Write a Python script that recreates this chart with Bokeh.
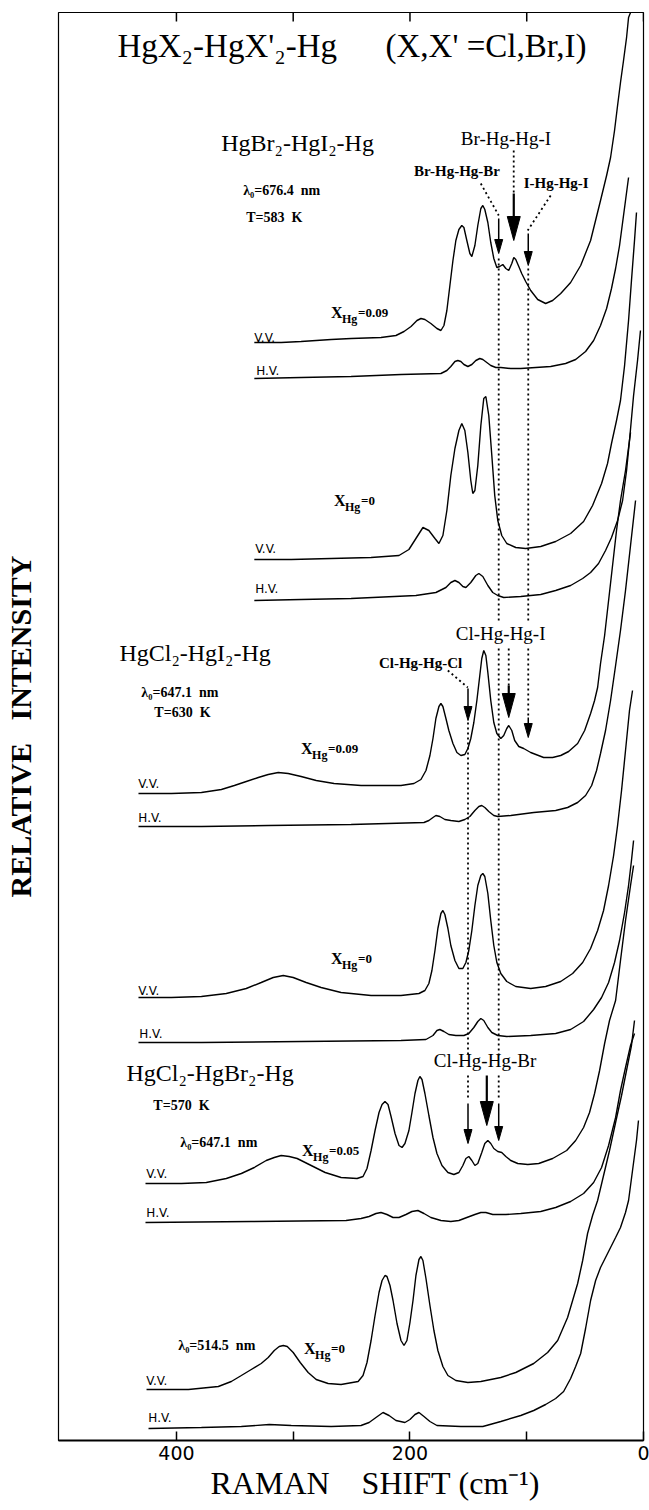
import math
from bokeh.plotting import figure
from bokeh.models import Range1d, FixedTicker, LinearAxis, Label
from bokeh.embed import file_html
from bokeh.resources import INLINE

# ---------------- data (Raman shift in cm-1, intensity in arbitrary units) -------------
# HgBr2-HgI2-Hg, X_Hg = 0.09
a_vv_shift = [333.3, 310.3, 293.2, 267.5, 250.4, 224.8, 212.0, 205.1, 199.1, 194.0, 190.6, 187.2, 182.1, 176.9, 173.5, 170.9, 168.4, 165.8, 163.2, 160.7, 158.1, 155.6, 153.8, 151.3, 148.7, 147.0, 144.4, 141.9, 139.3, 137.6, 135.9, 133.3, 130.8, 128.2, 125.6, 123.1, 120.5, 117.9, 115.4, 112.8, 111.1, 109.4, 106.8, 104.3, 100.9, 96.6, 90.6, 83.8, 77.8, 70.9, 62.4, 53.8, 45.3, 36.8, 31.6, 28.2, 24.8, 22.2, 19.7, 17.1, 14.5, 12.8, 11.1]
a_vv_int = [1098, 1098, 1099, 1101, 1102, 1103, 1105, 1109, 1114, 1120, 1122, 1121, 1117, 1112, 1110, 1115, 1130, 1155, 1180, 1200, 1211, 1215, 1213, 1200, 1187, 1184, 1195, 1215, 1232, 1235, 1231, 1218, 1198, 1182, 1173, 1174, 1176, 1172, 1170, 1177, 1183, 1181, 1174, 1167, 1159, 1150, 1141, 1137, 1140, 1147, 1158, 1175, 1200, 1240, 1265, 1283, 1310, 1335, 1358, 1380, 1403, 1423, 1428]
a_hv_shift = [333.3, 293.2, 250.4, 207.7, 173.5, 168.4, 165.0, 161.5, 159.0, 156.4, 153.8, 150.4, 147.0, 143.6, 140.2, 137.6, 134.2, 130.8, 126.5, 122.2, 113.7, 105.1, 92.3, 79.5, 66.7, 58.1, 49.6, 42.7, 36.8, 31.6, 27.4, 23.9, 20.5, 17.9, 15.4, 12.8]
a_hv_int = [1062, 1063, 1064, 1066, 1067, 1070, 1074, 1079, 1080, 1079, 1076, 1074, 1076, 1080, 1082, 1081, 1078, 1075, 1073, 1073, 1072, 1072, 1073, 1074, 1077, 1081, 1089, 1100, 1115, 1132, 1152, 1172, 1195, 1218, 1240, 1263]
# HgBr2-HgI2-Hg, X_Hg = 0
b_vv_shift = [333.3, 301.7, 267.5, 233.3, 209.4, 200.9, 194.9, 188.9, 183.8, 178.6, 175.2, 171.8, 168.4, 165.0, 161.5, 158.1, 155.6, 153.0, 150.4, 147.9, 146.2, 144.4, 141.9, 139.3, 136.8, 135.0, 132.5, 129.9, 127.4, 124.8, 121.4, 117.1, 109.4, 100.9, 88.0, 75.2, 62.4, 51.3, 43.6, 35.9, 30.8, 27.4, 23.1, 19.7, 16.2, 12.8, 10.3, 7.7, 6.0]
b_vv_int = [881, 881, 882, 883, 885, 891, 902, 913, 910, 902, 897, 905, 930, 965, 992, 1010, 1017, 1010, 988, 960, 947, 950, 975, 1015, 1042, 1044, 1025, 985, 945, 920, 905, 897, 893, 892, 894, 899, 907, 919, 935, 957, 977, 997, 1020, 1040, 1075, 1120, 1160, 1200, 1228]
b_hv_shift = [333.3, 293.2, 250.4, 194.9, 177.8, 169.2, 165.0, 161.5, 158.1, 154.7, 152.1, 147.9, 143.6, 141.0, 137.6, 133.3, 129.1, 124.8, 119.7, 105.1, 88.0, 75.2, 62.4, 52.1, 45.3, 38.5, 32.5, 27.4, 22.2, 17.9, 14.5, 12.0, 8.5, 5.1, 2.6]
b_hv_int = [840, 841, 842, 845, 848, 853, 858, 860, 858, 854, 853, 858, 865, 867, 864, 855, 848, 845, 843, 844, 846, 850, 855, 862, 868, 877, 890, 903, 920, 940, 970, 1000, 1045, 1080, 1110]
# HgCl2-HgI2-Hg, X_Hg = 0.09
c_vv_shift = [432.5, 404.3, 378.6, 361.5, 350.4, 340.2, 329.9, 321.4, 312.8, 304.3, 293.2, 280.3, 265.0, 241.9, 222.2, 207.7, 196.6, 190.6, 186.3, 182.9, 180.3, 177.8, 175.2, 173.5, 171.8, 169.2, 166.7, 163.2, 159.8, 156.4, 153.0, 150.4, 147.9, 145.3, 142.7, 140.2, 138.5, 136.8, 135.0, 133.3, 130.8, 128.2, 125.6, 122.2, 119.7, 117.1, 115.4, 112.8, 110.3, 106.8, 102.6, 96.6, 85.5, 77.8, 70.9, 64.1, 56.4, 50.4, 45.3, 41.9, 39.3, 36.8, 33.3, 29.9, 26.5, 23.1, 19.7, 15.4, 11.1]
c_vv_int = [647, 647, 648, 651, 655, 659, 663, 666, 668, 667, 664, 660, 657, 655, 655, 655, 657, 661, 670, 685, 702, 722, 734, 737, 734, 722, 710, 697, 688, 685, 686, 692, 702, 718, 740, 765, 782, 790, 785, 768, 740, 718, 707, 702, 705, 712, 715, 710, 700, 694, 692, 688, 683, 683, 685, 689, 697, 710, 727, 740, 753, 777, 805, 840, 875, 910, 940, 970, 1008]
c_hv_shift = [432.5, 378.6, 321.4, 250.4, 188.0, 183.8, 180.3, 177.8, 174.4, 170.1, 165.0, 158.1, 153.0, 148.7, 144.4, 141.0, 138.5, 135.9, 132.5, 128.2, 124.8, 113.7, 94.0, 75.2, 65.0, 56.4, 49.6, 44.4, 40.2, 36.8, 32.5, 28.2, 23.9, 19.7, 15.4, 11.1, 6.8]
c_hv_int = [614, 614, 615, 616, 618, 620, 623, 625, 624, 621, 620, 619, 621, 624, 630, 634, 635, 633, 629, 625, 624, 625, 628, 630, 633, 638, 645, 655, 670, 687, 710, 740, 775, 810, 850, 895, 940]
# HgCl2-HgI2-Hg, X_Hg = 0
d_vv_shift = [432.5, 404.3, 378.6, 357.3, 340.2, 327.4, 317.1, 308.5, 300.0, 288.9, 276.1, 259.0, 233.3, 207.7, 192.3, 187.2, 183.8, 181.2, 178.6, 176.1, 173.5, 171.8, 170.1, 167.5, 165.0, 161.5, 158.1, 154.7, 152.1, 149.6, 147.0, 144.4, 141.9, 139.3, 137.6, 135.9, 133.3, 130.8, 128.2, 125.6, 122.2, 117.1, 109.4, 96.6, 83.8, 70.9, 60.7, 52.1, 45.3, 39.3, 34.2, 29.9, 25.6, 22.2, 18.8, 15.4, 12.0, 9.4]
d_vv_int = [443, 443, 444, 447, 452, 458, 463, 465, 463, 458, 453, 448, 445, 445, 447, 450, 457, 470, 490, 512, 527, 530, 526, 512, 495, 480, 472, 472, 478, 490, 510, 535, 555, 565, 567, 564, 547, 520, 495, 478, 467, 459, 454, 452, 454, 459, 467, 478, 492, 510, 530, 555, 585, 615, 650, 690, 730, 750]
d_hv_shift = [432.5, 378.6, 293.2, 207.7, 186.3, 180.3, 176.9, 174.4, 170.9, 166.7, 160.7, 153.8, 149.6, 145.3, 141.9, 139.3, 136.8, 133.3, 129.9, 124.8, 117.1, 96.6, 75.2, 62.4, 51.3, 42.7, 35.9, 29.9, 24.8, 20.5, 16.2, 12.8, 10.3, 8.5]
d_hv_int = [398, 398, 399, 400, 401, 405, 410, 411, 409, 406, 405, 405, 407, 413, 419, 422, 420, 413, 408, 405, 404, 405, 407, 411, 419, 431, 443, 458, 478, 500, 528, 555, 580, 600]
# HgCl2-HgBr2-Hg, X_Hg = 0.05
e_vv_shift = [426.5, 395.7, 374.4, 357.3, 344.4, 333.3, 323.1, 316.2, 310.3, 303.4, 296.6, 284.6, 272.6, 259.0, 245.3, 240.2, 236.8, 233.3, 229.9, 226.5, 223.9, 221.4, 218.8, 216.2, 212.8, 209.4, 206.8, 204.3, 200.9, 198.3, 195.7, 193.2, 191.5, 189.7, 187.2, 183.8, 180.3, 176.9, 172.6, 167.5, 162.4, 158.1, 154.7, 152.1, 149.6, 147.0, 144.4, 141.9, 138.5, 135.9, 133.3, 130.8, 128.2, 124.8, 121.4, 117.9, 113.7, 107.7, 99.1, 89.7, 77.8, 65.8, 58.1, 51.3, 46.2, 41.9, 37.6, 33.3, 29.1, 23.9, 19.7, 15.4, 11.1, 8.5]
e_vv_int = [257, 257, 258, 262, 267, 273, 280, 283, 285, 284, 282, 275, 268, 263, 262, 264, 272, 290, 310, 328, 336, 339, 336, 324, 307, 295, 293, 297, 310, 328, 347, 360, 364, 361, 347, 325, 303, 287, 275, 268, 266, 268, 275, 282, 284, 280, 275, 277, 288, 297, 300, 297, 292, 289, 288, 284, 280, 277, 276, 277, 282, 290, 300, 313, 328, 347, 370, 397, 420, 440, 480, 520, 555, 575]
e_hv_shift = [426.5, 335.9, 254.7, 241.9, 235.0, 229.1, 224.8, 219.7, 214.5, 209.4, 203.4, 198.3, 193.2, 188.0, 182.1, 173.5, 165.0, 158.1, 151.3, 144.4, 139.3, 135.0, 129.1, 117.9, 105.1, 88.0, 75.2, 62.4, 51.3, 42.7, 35.9, 29.9, 23.9, 19.7, 15.4, 11.1, 7.7]
e_hv_int = [218, 219, 220, 222, 224, 227, 228, 226, 223, 223, 226, 229, 230, 227, 223, 220, 219, 220, 223, 226, 228, 228, 226, 226, 227, 229, 233, 239, 247, 258, 273, 295, 323, 350, 373, 395, 407]
# HgCl2-HgBr2-Hg, X_Hg = 0
f_vv_shift = [425.6, 389.7, 364.1, 353.0, 344.4, 335.9, 327.4, 321.4, 316.2, 312.0, 308.5, 305.1, 300.0, 294.0, 287.2, 280.3, 270.1, 259.0, 244.4, 240.2, 236.8, 233.3, 229.9, 226.5, 223.9, 221.4, 219.7, 217.1, 214.5, 211.1, 207.7, 205.1, 202.6, 200.0, 197.4, 194.9, 192.3, 190.6, 188.9, 186.3, 182.9, 179.5, 176.1, 171.8, 167.5, 160.7, 150.4, 139.3, 122.2, 109.4, 94.0, 82.1, 73.5, 65.0, 60.7, 56.4, 52.1, 47.9, 43.6, 39.3, 34.2, 29.1, 23.9, 18.8, 13.7, 10.3, 7.7]
f_vv_int = [51, 51, 54, 59, 65, 71, 77, 83, 90, 94, 95, 94, 88, 78, 68, 61, 57, 56, 59, 65, 78, 100, 125, 148, 160, 165, 164, 155, 140, 117, 100, 95, 100, 118, 140, 165, 181, 184, 180, 162, 135, 110, 90, 74, 65, 60, 58, 59, 63, 68, 77, 88, 100, 123, 140, 157, 180, 207, 225, 240, 265, 290, 318, 345, 375, 395, 420]
f_hv_shift = [423.9, 378.6, 344.4, 320.5, 301.7, 267.5, 241.9, 235.0, 229.1, 223.1, 217.9, 212.0, 204.3, 200.0, 195.7, 192.3, 188.0, 182.9, 176.9, 156.4, 137.6, 122.2, 105.1, 94.0, 83.8, 75.2, 68.4, 62.4, 58.1, 53.8, 49.6, 45.3, 41.0, 36.8, 32.5, 28.2, 23.9, 19.7, 15.4, 12.8, 9.4, 6.0, 4.3]
f_hv_int = [12, 13, 14, 16, 15, 14, 15, 18, 23, 28, 25, 20, 18, 21, 26, 28, 24, 19, 15, 14, 14, 19, 25, 30, 36, 42, 49, 62, 74, 87, 112, 140, 160, 173, 183, 193, 203, 213, 228, 240, 270, 300, 320]

spectra = [
    (a_vv_shift, a_vv_int), (a_hv_shift, a_hv_int),
    (b_vv_shift, b_vv_int), (b_hv_shift, b_hv_int),
    (c_vv_shift, c_vv_int), (c_hv_shift, c_hv_int),
    (d_vv_shift, d_vv_int), (d_hv_shift, d_hv_int),
    (e_vv_shift, e_vv_int), (e_hv_shift, e_hv_int),
    (f_vv_shift, f_vv_int), (f_hv_shift, f_hv_int),
]

# band assignments (cm-1): arrows (shift, top, tip, big)
arrow_shift = [124.0, 111.1, 98.7, 150.3, 115.4, 98.7, 150.3, 134.2, 124.0]
arrow_top = [1222, 1247, 1207, 752, 755, 723, 337, 365, 337]
arrow_tip = [1187, 1200, 1175, 720, 723, 703, 297, 315, 300]
arrow_big = [False, True, False, False, True, False, False, True, False]

x_ticks = [400, 200, 0]
x_minor_ticks = [300, 100]

# ---------------- layout ----------------
W, H = 649, 1510
L, R, T, B = 57, 6, 12, 70
XMAX, XMIN = 501, 0
YMIN, YMAX = 0, 1428
FW, FH = W - L - R, H - T - B
NB = "\u00a0"


def dx(xp):
    return XMAX - (xp - L) * (XMAX - XMIN) / FW


def dy(yp):
    return YMAX - (yp - T) * (YMAX - YMIN) / FH


p = figure(width=W, height=H, x_range=Range1d(XMAX, XMIN), y_range=Range1d(YMIN, YMAX),
           output_backend="svg", toolbar_location=None,
           min_border_left=L, min_border_right=R, min_border_top=T, min_border_bottom=B,
           x_axis_location=None, y_axis_location=None)
p.xgrid.visible = False
p.ygrid.visible = False
p.outline_line_color = "black"
p.outline_line_width = 1.2
p.background_fill_color = "white"
p.border_fill_color = "white"

xb = LinearAxis(ticker=FixedTicker(ticks=x_ticks, minor_ticks=x_minor_ticks),
                axis_label=NB * 6 + "RAMAN" + NB * 4 + "SHIFT" + NB + "(cm\u207b\u00b9)")
xb.major_tick_in = 9
xb.major_tick_out = 0
xb.minor_tick_in = 9
xb.minor_tick_out = 0
xb.axis_line_width = 2
xb.axis_line_color = "black"
xb.major_tick_line_width = 1.5
xb.minor_tick_line_width = 1.5
xb.major_tick_line_color = "black"
xb.minor_tick_line_color = "black"
xb.major_label_text_font = "DejaVu Sans"
xb.major_label_text_font_size = "19px"
xb.major_label_text_color = "black"
xb.major_label_standoff = 5
xb.axis_label_text_font = "Liberation Serif"
xb.axis_label_text_font_size = "32px"
xb.axis_label_text_font_style = "normal"
xb.axis_label_text_color = "black"
xb.axis_label_standoff = 2
p.add_layout(xb, "below")

yl = LinearAxis(ticker=FixedTicker(ticks=[]), axis_label="RELATIVE" + NB * 3 + "INTENSITY")
yl.axis_line_color = None
yl.major_tick_in = 0
yl.major_tick_out = 0
yl.minor_tick_in = 0
yl.minor_tick_out = 0
yl.major_label_standoff = 0
yl.axis_label_standoff = 22
yl.axis_label_text_font = "Liberation Serif"
yl.axis_label_text_font_size = "30px"
yl.axis_label_text_font_style = "bold"
yl.axis_label_text_color = "black"
p.add_layout(yl, "left")

# top-edge tick marks
p.segment(x0=x_ticks + x_minor_ticks, y0=[YMAX] * 5, x1=x_ticks + x_minor_ticks, y1=[YMAX - 9] * 5,
          line_color="black", line_width=1.5)

for sx, si in spectra:
    p.line(sx, si, line_color="black", line_width=1.4)

# dotted guide lines
dot = dict(line_color="black", line_width=1.8, line_dash="2 3")
guides = [
    (124.0, 1182, 820), (124.0, 792, 385), (124.0, 365, 340),
    (98.7, 1172, 820), (98.7, 792, 725),
    (150.3, 718, 385), (150.3, 365, 340),
]
for gx, g0, g1 in guides:
    p.line([gx, gx], [g0, g1], **dot)
p.line([dx(480), dx(498)], [dy(183), dy(215)], **dot)
p.line([dx(513), dx(513)], [dy(150), dy(192)], **dot)
p.line([dx(550), dx(527)], [dy(195), dy(230)], **dot)
p.line([dx(447), dx(467)], [dy(670), dy(687)], **dot)
p.line([dx(508), dx(508)], [dy(648), dy(685)], **dot)

# arrows
ux = (XMAX - XMIN) / FW
hx, hy = [], []
for ax, a0, a1, big in zip(arrow_shift, arrow_top, arrow_tip, arrow_big):
    hw = (6.5 if big else 4.0) * ux
    hl = 24 if big else 14
    p.line([ax, ax], [a0, a1 + hl - 1], line_color="black", line_width=2.2 if big else 1.5)
    hx.append([ax - hw, ax + hw, ax])
    hy.append([a1 + hl, a1 + hl, a1])
p.patches(hx, hy, fill_color="black", line_color="black", line_width=1)

SERIF = "Liberation Serif"
SANS = "DejaVu Sans"


def txt(xp, yp, s, size, font=SERIF, bold=False, align="left"):
    p.add_layout(Label(x=dx(xp), y=dy(yp), text=s, text_font=font,
                       text_font_size=f"{size}px", text_font_style="bold" if bold else "normal",
                       text_align=align, text_baseline="middle", text_color="black"))


def xhg(xp, yp, rest):
    txt(xp, yp, "X", 16, bold=True)
    txt(xp + 11, yp + 6, "Hg", 12, bold=True)
    txt(xp + 27, yp, rest, 13, bold=True)


# title
txt(116, 45, "HgX\u2082-HgX'\u2082-Hg", 33)
txt(586, 45, "(X,X'" + NB + "=Cl,Br,I)", 33, align="right")

# HgBr2-HgI2 group
txt(220, 142, "HgBr\u2082-HgI\u2082-Hg", 24)
txt(242, 190, "\u03bb\u2080=676.4" + NB * 2 + "nm", 14, bold=True)
txt(245, 217, "T=583" + NB * 2 + "K", 14, bold=True)
txt(460, 138, "Br-Hg-Hg-I", 19)
txt(413, 170, "Br-Hg-Hg-Br", 15, bold=True)
txt(523, 182, "I-Hg-Hg-I", 15, bold=True)
xhg(330, 312, "=0.09")
txt(253, 337, "V.V.", 12, font=SANS)
txt(255, 370, "H.V.", 12, font=SANS)
xhg(333, 500, "=0")
txt(254, 548, "V.V.", 12, font=SANS)
txt(254, 588, "H.V.", 12, font=SANS)

# HgCl2-HgI2 group
txt(118, 652, "HgCl\u2082-HgI\u2082-Hg", 24)
txt(140, 692, "\u03bb\u2080=647.1" + NB * 2 + "nm", 14, bold=True)
txt(153, 712, "T=630" + NB * 2 + "K", 14, bold=True)
txt(455, 633, "Cl-Hg-Hg-I", 19)
txt(378, 662, "Cl-Hg-Hg-Cl", 15, bold=True)
xhg(300, 748, "=0.09")
txt(137, 783, "V.V.", 12, font=SANS)
txt(137, 817, "H.V.", 12, font=SANS)
xhg(330, 958, "=0")
txt(137, 990, "V.V.", 12, font=SANS)
txt(138, 1033, "H.V.", 12, font=SANS)

# HgCl2-HgBr2 group
txt(125, 1072, "HgCl\u2082-HgBr\u2082-Hg", 24)
txt(152, 1105, "T=570" + NB * 2 + "K", 14, bold=True)
txt(179, 1142, "\u03bb\u2080=647.1" + NB * 2 + "nm", 14, bold=True)
xhg(301, 1150, "=0.05")
txt(433, 1060, "Cl-Hg-Hg-Br", 19)
txt(145, 1173, "V.V.", 12, font=SANS)
txt(145, 1212, "H.V.", 12, font=SANS)
txt(177, 1345, "\u03bb\u2080=514.5" + NB * 2 + "nm", 14, bold=True)
xhg(303, 1348, "=0")
txt(145, 1380, "V.V.", 12, font=SANS)
txt(147, 1417, "H.V.", 12, font=SANS)

open("out.html", "w").write(file_html(p, INLINE))
